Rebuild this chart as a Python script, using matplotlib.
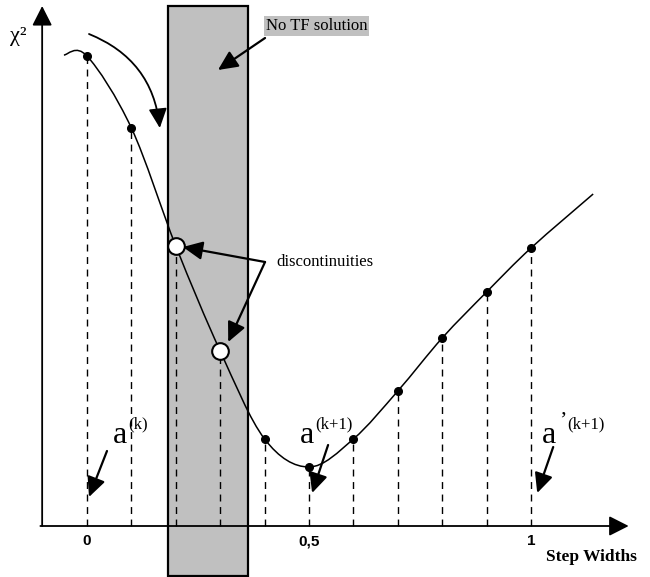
import matplotlib.pyplot as plt
from matplotlib.patches import Rectangle, FancyArrowPatch, PathPatch
from matplotlib.path import Path

# step widths and chi^2 values
steps = [0.0, 0.1, 0.2, 0.3, 0.4, 0.5, 0.6, 0.7, 0.8, 0.9, 1.0]
chi2 = [4.70, 3.98, 2.80, 1.75, 0.87, 0.59, 0.87, 1.35, 1.88, 2.34, 2.78]
open_steps = [0.2, 0.3]          # discontinuities
curve_start = (-0.052, 4.71)
curve_end = (1.14, 3.32)
no_tf = (0.182, 0.363)           # region without TF solution
tick_pos = [0, 0.5, 1]
tick_text = ['0', '0,5', '1']

serif = 'Liberation Serif'
sans = 'Liberation Sans'


def smooth_path(pts):
    # Catmull-Rom through the points, drawn as cubic Bezier segments
    verts = [pts[0]]
    codes = [Path.MOVETO]
    n = len(pts)
    for i in range(n - 1):
        p0 = pts[max(i - 1, 0)]
        p1 = pts[i]
        p2 = pts[i + 1]
        p3 = pts[min(i + 2, n - 1)]
        c1 = (p1[0] + (p2[0] - p0[0]) / 6, p1[1] + (p2[1] - p0[1]) / 6)
        c2 = (p2[0] - (p3[0] - p1[0]) / 6, p2[1] - (p3[1] - p1[1]) / 6)
        verts += [c1, c2, p2]
        codes += [Path.CURVE4] * 3
    return Path(verts, codes)


def arrow(ax, start, end, rad=0.0, lw=1.6, head=(0.85, 0.4), scale=14):
    a = FancyArrowPatch(start, end,
                        arrowstyle='-|>,head_length=%g,head_width=%g' % head,
                        connectionstyle='arc3,rad=%g' % rad,
                        mutation_scale=scale, lw=lw, color='black',
                        shrinkA=0, shrinkB=0, zorder=6)
    ax.add_patch(a)


fig = plt.figure(figsize=(6.5, 5.77), dpi=100)
ax = fig.add_axes([0, 0, 1, 1])
ax.set_xlim(-87 / 444, 563 / 444)
ax.set_ylim(-0.51, 5.26)
ax.axis('off')

# shaded region
ax.add_patch(Rectangle((no_tf[0], -0.50), no_tf[1] - no_tf[0], 5.70,
                       facecolor='#c0c0c0', edgecolor='black', lw=1.6, zorder=1))

# dashed drop lines
for x, y in zip(steps, chi2):
    ax.plot([x, x], [0, y], color='black', lw=1.0, ls=(0, (5, 4)), zorder=2)

# smooth curve
pts = [curve_start] + list(zip(steps, chi2)) + [curve_end]
ax.add_patch(PathPatch(smooth_path(pts), facecolor='none', edgecolor='black',
                       lw=1.1, zorder=3))

# points
closed = [(x, y) for x, y in zip(steps, chi2) if x not in open_steps]
opened = [(x, y) for x, y in zip(steps, chi2) if x in open_steps]
ax.plot([p[0] for p in closed], [p[1] for p in closed], 'o', color='black',
        ms=5.5, zorder=4)
ax.plot([p[0] for p in opened], [p[1] for p in opened], 'o', mfc='white',
        mec='black', mew=1.5, ms=12, zorder=4)

# axes with arrow heads
axis_head = dict(arrowstyle='-|>,head_length=0.75,head_width=0.38',
                 mutation_scale=16, lw=1.3, color='black', shrinkA=0, shrinkB=0)
ax.annotate('', xy=(1.22, 0), xytext=(-0.105, 0), arrowprops=axis_head, zorder=5)
ax.annotate('', xy=(-0.101, 5.20), xytext=(-0.101, 0), arrowprops=axis_head,
            zorder=5)

for p, t in zip(tick_pos, tick_text):
    ax.text(p, -0.15, t, family=sans, weight='bold', fontsize=11,
            ha='center', va='center')
ax.text(1.135, -0.31, 'Step Widths', family=serif, weight='bold', fontsize=12.5,
        ha='center', va='center')
ax.text(-0.155, 4.90, 'χ²', family=serif, fontsize=16, ha='center', va='center')

# annotations
arrow(ax, (0.0045, 4.92), (0.164, 3.98), rad=-0.3, lw=1.3)
ax.text(0.403, 5.00, 'No TF solution', family=serif, fontsize=12,
        ha='left', va='center',
        bbox=dict(facecolor='#c0c0c0', edgecolor='none', pad=1.5))
arrow(ax, (0.401, 4.88), (0.295, 4.56))
ax.text(0.426, 2.64, 'discontinuities', family=serif, fontsize=12,
        ha='left', va='center')
arrow(ax, (0.401, 2.64), (0.216, 2.79))
arrow(ax, (0.401, 2.64), (0.318, 1.84))

labels = [(0.074, "a", '(k)'), (0.495, "a", '(k+1)'), (1.041, "a", '(k+1)')]
for i, (x, a, sup) in enumerate(labels):
    ax.text(x, 0.83, a, family=serif, fontsize=23, ha='center', va='baseline')
    sx = x + 0.02
    if i == 2:
        ax.text(x + 0.022, 1.0, '\u2019', family=serif, fontsize=16,
                ha='left', va='baseline')
        sx = x + 0.04
    ax.text(sx, 0.98, sup, family=serif, fontsize=12, ha='left', va='baseline')

arrow(ax, (0.045, 0.75), (0.0045, 0.29))
arrow(ax, (0.543, 0.81), (0.507, 0.33))
arrow(ax, (1.050, 0.79), (1.014, 0.33))

fig.savefig('out.png', dpi=100)
